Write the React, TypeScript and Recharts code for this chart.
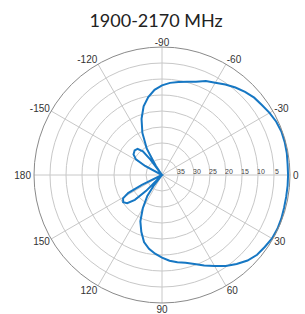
import { RadarChart, Radar, PolarGrid, PolarAngleAxis, PolarRadiusAxis } from 'recharts';

// angle in degrees, clockwise from 0 (right); 180..355 are shown as -180..-5
const angles = [
  0, 5, 10, 15, 20, 25, 30, 35, 40, 45, 50, 55,
  60, 65, 70, 75, 80, 85, 90, 95, 100, 105, 110, 115,
  120, 125, 128, 131, 133, 135, 137.5, 141, 145, 149, 152, 154,
  156, 160, 170, 180, 190, 200, 206, 208, 211, 216, 222, 227,
  231, 233, 234.5, 235.5, 240, 245, 250, 255, 260, 265, 270, 275,
  280, 285, 290, 295, 300, 305, 310, 315, 320, 325, 330, 335,
  340, 345, 350, 355, 360,
];

// relative gain in dB (clipped at -40)
const gain = [
  -0.6, -0.6, -0.6, -0.5, -0.3, -0.2, -0.3, -0.8, -1.2, -2.2, -3.7, -5.3,
  -7.2, -8.8, -10.4, -11.6, -12.3, -13.1, -14.2, -15.3, -16.6, -18.3, -21.1, -24.0,
  -28.0, -32.0, -36, -40, -40, -33, -28.5, -26, -25.2, -25.8, -28, -33,
  -40, -40, -40, -40, -40, -40, -40, -34, -30.5, -29, -28.5, -28.8,
  -30.5, -34, -40, -36.5, -30.5, -25.5, -21.3, -17.8, -15.3, -13.3, -12.0, -11.1,
  -10.5, -9.8, -9.0, -7.6, -6.7, -5.5, -4.3, -3.3, -2.4, -1.9, -1.2, -0.6,
  -0.3, -0.3, -0.4, -0.6, -0.6,
];

const ringTicks = [-40, -35, -30, -25, -20, -15, -10, -5, 0];
const spokeAngles = [0, 30, 60, 90, 120, 150, 180, 210, 240, 270, 300, 330];
const ringRadii = [16, 32, 48, 64, 80, 96, 112];

const CX = 162;
const CY = 175;
const R = 128;

const data = angles.map((a, i) => ({ angle: a, gain: gain[i] }));

const angleLabel = (a: number) => (a > 180 ? String(a - 360) : String(a));

function AngleTick({ payload }: any) {
  const a = payload.value;
  if (a % 30 !== 0 || a >= 360) return <g />;
  const rad = (a * Math.PI) / 180;
  const c = Math.cos(rad);
  const s = Math.sin(rad);
  const anchor = c > 0.1 ? 'start' : c < -0.1 ? 'end' : 'middle';
  const x = CX + R * c + (Math.abs(c) > 0.95 ? 3 * c : 1.5 * c);
  const y = CY + R * s + (s > 0.9 ? 6 : 5 * s);
  return (
    <text x={x} y={y} textAnchor={anchor} dominantBaseline="central" fontSize={10} fill="#333"
      fontFamily="'Liberation Sans', Arial, sans-serif">
      {angleLabel(a)}
    </text>
  );
}

function RingTick({ x, y, payload }: any) {
  const v = payload.value;
  if (v <= -40 || v >= 0) return <g />;
  return (
    <text x={x + 3} y={y - 1} textAnchor="middle" fontSize={7} fill="#444"
      fontFamily="'Liberation Sans', Arial, sans-serif">
      {Math.abs(v)}
    </text>
  );
}

export default function App() {
  return (
    <div style={{ position: 'absolute', left: 0, top: 0, width: 305, height: 314, background: '#fff' }}>
      <div style={{ position: 'absolute', left: 0, top: 8, width: 312, textAlign: 'center',
        fontFamily: 'Lato, sans-serif', fontSize: 18, color: '#222', lineHeight: '24px' }}>
        1900-2170 MHz
      </div>
      <RadarChart width={305} height={314} data={data} cx={CX} cy={CY} outerRadius={R}
        startAngle={0} endAngle={-360} margin={{ top: 0, right: 0, bottom: 0, left: 0 }}>
        <PolarGrid gridType="circle" polarAngles={spokeAngles} polarRadius={ringRadii}
          stroke="#c8c8c8" strokeWidth={1} />
        <PolarAngleAxis dataKey="angle" type="number" domain={[0, 360]} ticks={spokeAngles}
          tick={AngleTick} tickLine={false}
          axisLine={{ stroke: '#8a8a8a', strokeWidth: 1 }} axisLineType="circle" />
        <PolarRadiusAxis type="number" domain={[-40, 0]} ticks={ringTicks} tickCount={9} angle={0}
          axisLine={false} tickLine={false} tick={RingTick} allowDataOverflow />
        <Radar dataKey="gain" stroke="#1677c3" strokeWidth={2} fill="none" fillOpacity={0}
          dot={false} isAnimationActive={false} />
      </RadarChart>
    </div>
  );
}
